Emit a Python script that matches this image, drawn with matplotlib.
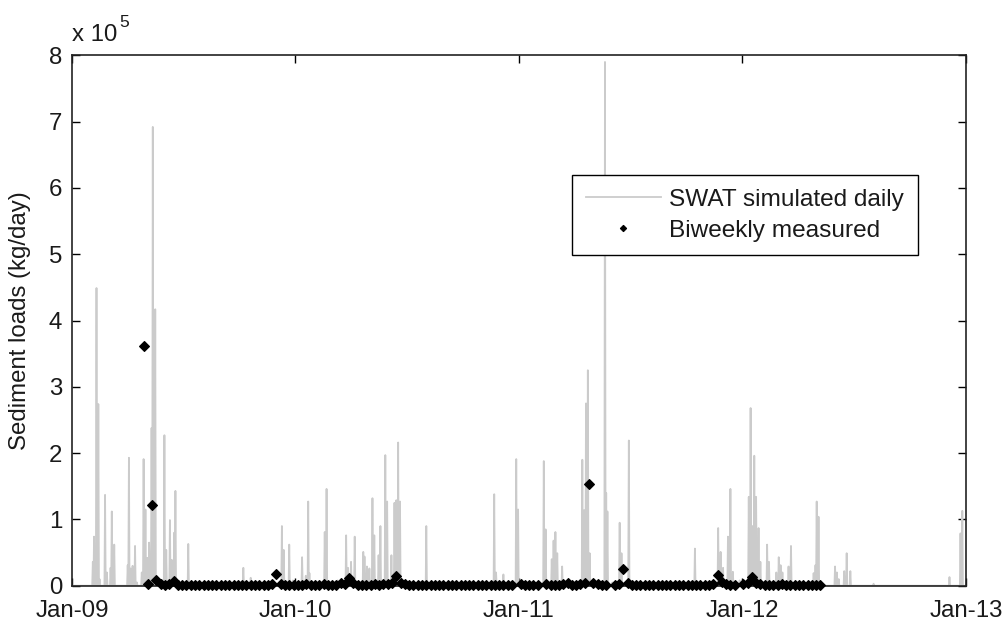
import numpy as np
import pandas as pd
import matplotlib
matplotlib.use("Agg")
import matplotlib.pyplot as plt

plt.rcParams['font.family'] = ['Liberation Sans', 'DejaVu Sans']

# ---- SWAT simulated daily sediment load: storm-event peaks (kg/day) ----
event_dates = [
    "2009-02-04", "2009-02-06", "2009-02-10", "2009-02-13", "2009-02-15",
    "2009-02-24", "2009-02-27", "2009-03-05", "2009-03-07", "2009-03-11",
    "2009-04-02", "2009-04-04", "2009-04-07", "2009-04-10", "2009-04-14",
    "2009-04-17", "2009-04-25", "2009-04-28", "2009-05-01", "2009-05-04",
    "2009-05-07", "2009-05-11", "2009-05-13", "2009-05-17", "2009-05-20",
    "2009-06-01", "2009-06-04", "2009-06-10", "2009-06-13", "2009-06-17",
    "2009-06-19", "2009-07-10", "2009-10-08", "2009-10-20", "2009-12-10",
    "2009-12-13", "2009-12-22", "2009-12-28",
    "2010-01-12", "2010-01-18", "2010-01-22", "2010-01-24", "2010-02-18",
    "2010-02-21", "2010-03-11", "2010-03-25", "2010-03-28", "2010-04-02",
    "2010-04-08", "2010-04-22", "2010-04-24", "2010-04-28", "2010-05-02",
    "2010-05-07", "2010-05-10", "2010-05-17", "2010-05-20", "2010-05-28",
    "2010-05-31", "2010-06-07", "2010-06-12", "2010-06-15", "2010-06-18",
    "2010-06-21", "2010-07-23", "2010-08-03", "2010-11-22", "2010-11-25",
    "2010-12-07", "2010-12-28", "2010-12-31",
    "2011-02-11", "2011-02-14", "2011-02-24", "2011-02-27", "2011-03-02",
    "2011-03-05", "2011-03-13", "2011-04-15", "2011-04-18", "2011-04-21",
    "2011-04-24", "2011-04-27", "2011-05-22", "2011-05-24", "2011-05-26",
    "2011-06-03", "2011-06-15", "2011-06-18", "2011-06-30", "2011-10-16",
    "2011-11-23", "2011-11-27", "2011-12-01", "2011-12-09", "2011-12-13",
    "2011-12-17", "2011-12-28",
    "2012-01-12", "2012-01-15", "2012-01-18", "2012-01-21", "2012-01-24",
    "2012-01-28", "2012-01-31", "2012-02-11", "2012-02-14", "2012-02-26",
    "2012-03-01", "2012-03-04", "2012-03-07", "2012-03-17", "2012-03-21",
    "2012-04-11", "2012-04-27", "2012-04-30", "2012-05-02", "2012-05-05",
    "2012-06-01", "2012-06-04", "2012-06-07", "2012-06-16", "2012-06-20",
    "2012-06-26", "2012-08-03", "2012-12-05", "2012-12-23", "2012-12-26",
]
event_loads = [
    36000, 74000, 449000, 274000, 10000,
    137000, 20000, 27000, 112000, 62000,
    31000, 193000, 26000, 30000, 60000,
    5000, 20000, 191000, 115000, 42000,
    65000, 238000, 692000, 417000, 8000,
    227000, 54000, 99000, 39000, 80000,
    143000, 63000, 27000, 12000, 90000,
    54000, 62000, 8000,
    43000, 15000, 127000, 19000, 81000,
    146000, 8000, 76000, 27000, 36000,
    74000, 51000, 44000, 29000, 26000,
    132000, 76000, 46000, 90000, 197000,
    127000, 46000, 125000, 129000, 216000,
    127000, 6000, 90000, 138000, 20000,
    17000, 191000, 115000,
    188000, 85000, 40000, 68000, 81000,
    49000, 29000, 190000, 114000, 275000,
    325000, 49000, 790000, 140000, 112000,
    5000, 95000, 49000, 219000, 56000,
    87000, 51000, 27000, 74000, 146000,
    21000, 8000,
    134000, 268000, 90000, 196000, 134000,
    87000, 36000, 62000, 36000, 20000,
    43000, 31000, 20000, 29000, 60000,
    5000, 19000, 31000, 127000, 104000,
    29000, 20000, 10000, 22000, 49000,
    22000, 3000, 13000, 79000, 113000,
]

# ---- weekly-spaced grab samples (kg/day) ----
sample_start = "2009-04-28"
sample_loads = [
    362000, 3000, 122000, 8000, 2000, 1500, 2500, 7000, 1800, 1200,
    1500, 1000, 900, 1300, 800, 700, 1100, 900, 600, 800,
    700, 500, 600, 900, 400, 500, 600, 800, 1200, 1500,
    2500, 17000, 3000, 1500, 1200, 900, 400, 600, 2000, 1500,
    1000, 1800, 2500, 1200, 900, 1500, 4000, 2500, 11000, 3500,
    1800, 1200, 1000, 1500, 2000, 1600, 2200, 3000, 4500, 15000,
    4000, 2500, 1800, 1400, 1200, 1000, 900, 800, 1100, 700,
    600, 800, 500, 600, 700, 900, 800, 600, 700, 500,
    600, 1200, 900, 700, 800, 1000, 600, np.nan, 2000, 1500,
    1000, 1800, 1200, np.nan, 2500, 1800, 1500, 1200, 2000, 3500,
    1500, 1200, 2200, 4000, 153000, 4500, 2500, 1800, 1000, np.nan,
    800, 3000, 25000, 3500, 1500, 1200, 900, 700, 800, 600,
    500, 700, 600, 800, 700, 500, 600, 900, 800, 700,
    1000, 1200, 1500, 3000, 16000, 6000, 2500, 1800, 1200, np.nan,
    2000, 3500, 13000, 4000, 2500, 1500, 1800, 1200, 1500, 2200,
    1800, 1200, 1000, 1400, 900, 800, 1100, 700, 600,
]

x_tick_labels = ["Jan-09", "Jan-10", "Jan-11", "Jan-12", "Jan-13"]
y_tick_labels = ["0", "1", "2", "3", "4", "5", "6", "7", "8"]

# daily series on a zero baseline with the event peaks placed on their days
days = pd.date_range("2009-01-01", "2012-12-31", freq="D")
daily = pd.Series(0.0, index=days)
daily.loc[pd.to_datetime(event_dates)] = event_loads

sample_dates = pd.date_range(sample_start, periods=len(sample_loads), freq="7D")

fig = plt.figure(figsize=(10.03, 6.21), dpi=100)
ax = fig.add_axes([0.0718, 0.0568, 0.8913, 0.8541])

fs = 17.3
txt = "#1a1a1a"
ax.plot(daily.index, daily.values, color="#cbcbcb", lw=1.3,
        label="SWAT simulated daily", zorder=2)
ax.plot(sample_dates, sample_loads, ls="none", marker="D", ms=4.6,
        mfc="black", mec="black", mew=0.8, label="Biweekly measured",
        clip_on=False, zorder=4)

ax.set_xlim(pd.Timestamp("2009-01-01"), pd.Timestamp("2013-01-01"))
ax.set_ylim(0, 8e5)
xt = pd.to_datetime(["2009-01-01", "2010-01-01", "2011-01-01",
                     "2012-01-01", "2013-01-01"])
ax.set_xticks(xt)
ax.set_xticklabels(x_tick_labels, fontsize=fs)
ax.set_yticks(np.arange(0, 9) * 1e5)
ax.set_yticklabels(y_tick_labels, fontsize=fs)
ax.tick_params(direction="in", length=6, width=1, top=True, right=True,
               colors="black", labelcolor=txt)
ax.tick_params(axis="x", pad=10)
ax.tick_params(axis="y", pad=7)
for s in ax.spines.values():
    s.set_linewidth(1.2)
    s.set_color("#222222")
    s.set_zorder(3)

ax.set_ylabel("Sediment loads (kg/day)", fontsize=fs, color=txt)
ax.yaxis.set_label_coords(-0.046, 0.5)

ax.text(0.0, 1.017, "x 10", transform=ax.transAxes, fontsize=fs,
        ha="left", va="bottom", color=txt)
ax.text(0.053, 1.047, "5", transform=ax.transAxes, fontsize=12.5,
        ha="left", va="bottom", color=txt)

leg = ax.legend(loc="upper right", bbox_to_anchor=(0.946, 0.774),
                fontsize=17.6, frameon=True, fancybox=False, shadow=False,
                framealpha=1, edgecolor="black", handlelength=3.1,
                handletextpad=0.33, borderpad=0.55, labelspacing=0.36,
                borderaxespad=0)
leg.get_frame().set_linewidth(1.0)
leg.legend_handles[1].set_markersize(3.2)
for t in leg.get_texts():
    t.set_color(txt)

fig.savefig("out.png", dpi=100)
